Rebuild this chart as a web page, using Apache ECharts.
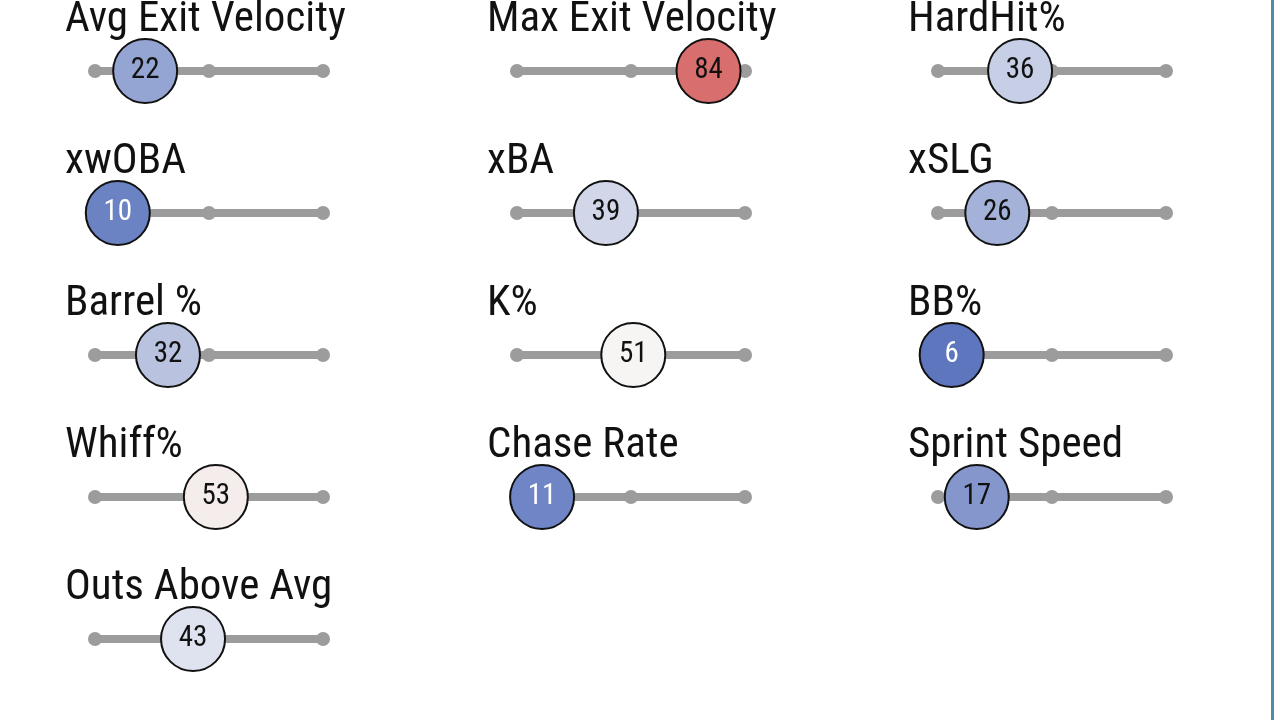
<!DOCTYPE html><html><head><meta charset="utf-8"><script src="https://cdn.jsdelivr.net/npm/echarts@6/dist/echarts.min.js"></script>
<style>html,body{margin:0;background:#fff}#c{width:1280px;height:720px}</style></head><body><div id="c"></div><script>
const metrics=["Avg Exit Velocity","Max Exit Velocity","HardHit%","xwOBA","xBA","xSLG","Barrel %","K%","BB%","Whiff%","Chase Rate","Sprint Speed","Outs Above Avg"];
const percentiles=[22,84,36,10,39,26,32,51,6,53,11,17,43];
const trackTicks=[0,50,100];
const font="'Liberation Sans Narrow','Roboto Condensed',Roboto,sans-serif";
function lerp(a,b,t){return a.map((v,i)=>Math.round(v+(b[i]-v)*t));}
function col(p){const lo=[72,100,182],mid=[248,248,248],hi=[201,45,45];
 const c=p<50?lerp(lo,mid,p/50):lerp(mid,hi,(p-50)/50);return 'rgb('+c.join(',')+')';}
const colX=[95,517,938],rowY=[71,213,355,497,639],W=228;
const grids=[],xA=[],yA=[],series=[],graphics=[];
metrics.forEach((m,i)=>{
 const cx=colX[i%3],cy=rowY[Math.floor(i/3)];
 grids.push({left:cx,top:cy-10,width:W,height:20});
 xA.push({gridIndex:i,type:'value',min:0,max:100,show:false});
 yA.push({gridIndex:i,type:'value',min:-1,max:1,show:false});
 series.push({type:'line',xAxisIndex:i,yAxisIndex:i,data:trackTicks.map(t=>[t,0]),symbol:'circle',symbolSize:14,showSymbol:true,
  lineStyle:{color:'#9c9c9c',width:8},itemStyle:{color:'#9c9c9c'},silent:true,z:1});
 series.push({type:'scatter',xAxisIndex:i,yAxisIndex:i,data:[[percentiles[i],0]],symbolSize:64,z:5,
  itemStyle:{color:col(percentiles[i]),borderColor:'#111',borderWidth:2,opacity:1},
  label:{show:true,position:'inside',formatter:()=>String(percentiles[i]),fontFamily:font,fontSize:29,
   color:percentiles[i]<15?'#fff':'#111'}});
 graphics.push({type:'text',left:cx-30,top:cy-72,style:{text:m,font:'43px '+font,fill:'#111'}});
});
graphics.push({type:'rect',shape:{x:1271,y:0,width:3,height:720},style:{fill:'#4a8fa8'}});
const ch=echarts.init(document.getElementById('c'));
ch.setOption({animation:false,grid:grids,xAxis:xA,yAxis:yA,series:series,graphic:graphics});
</script></body></html>
